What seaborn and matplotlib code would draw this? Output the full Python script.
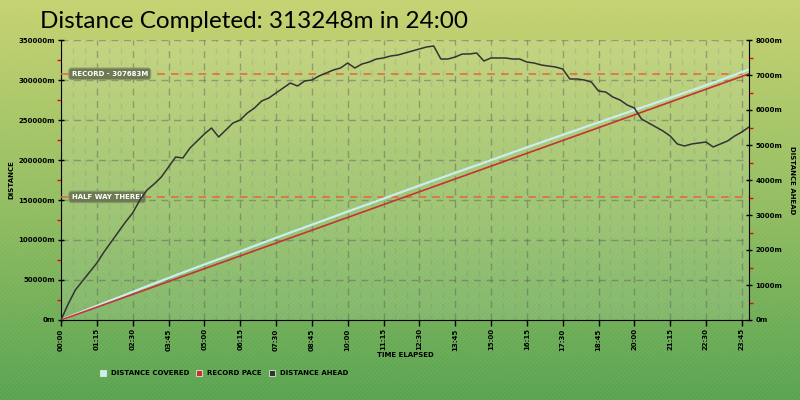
import numpy as np
import pandas as pd
import matplotlib
matplotlib.use("Agg")
import matplotlib.pyplot as plt
import seaborn as sns
from matplotlib.ticker import MultipleLocator, FuncFormatter
from matplotlib.colors import LinearSegmentedColormap
from matplotlib.patches import Rectangle
from matplotlib.font_manager import FontProperties

# ---------------- data ----------------
title_text = "Distance Completed: 313248m in 24:00"
record_distance = 307683
half_way_distance = 153842

# record pace: straight line from start to record distance at 24h
record_hours = [0, 24]
record_values = [0, 307683]

# distance covered (hourly readings)
covered_hours = list(range(25))
covered_values = [0, 14191, 28154, 42174, 55938, 69415, 82550, 95998, 109332,
                  122352, 135544, 148478, 161471, 174491, 187082, 199788,
                  212579, 225199, 237648, 250125, 262460, 274623, 287072,
                  299806, 313248]

# distance ahead of record pace (every 15 minutes)
ahead_hours = np.arange(0, 24.01, 0.25)
ahead_values = [0, 457, 857, 1114, 1371, 1629, 1943, 2229, 2514, 2800, 3057,
                3429, 3714, 3886, 4086, 4371, 4657, 4629, 4914, 5114, 5314,
                5486, 5229, 5429, 5629, 5714, 5914, 6057, 6257, 6343, 6486,
                6629, 6771, 6686, 6829, 6857, 6971, 7057, 7143, 7200, 7343,
                7200, 7314, 7371, 7457, 7486, 7543, 7571, 7629, 7686, 7743,
                7800, 7829, 7457, 7457, 7514, 7600, 7600, 7629, 7400, 7486,
                7486, 7486, 7457, 7457, 7371, 7343, 7286, 7257, 7229, 7171,
                6886, 6886, 6857, 6800, 6543, 6514, 6371, 6286, 6143, 6057,
                5743, 5629, 5514, 5400, 5257, 5029, 4971, 5029, 5057, 5086,
                4943, 5029, 5114, 5257, 5371, 5514]

legend_labels = ["DISTANCE COVERED", "RECORD PACE", "DISTANCE AHEAD"]
c_covered = "#c8eef2"
c_record = "#c43434"
c_ahead = "#333333"

df_cov = pd.DataFrame({"h": covered_hours, "v": covered_values})
df_rec = pd.DataFrame({"h": record_hours, "v": record_values})
df_ahead = pd.DataFrame({"h": ahead_hours, "v": ahead_values})

# ---------------- figure ----------------
fig = plt.figure(figsize=(8, 4), dpi=100)

bg = fig.add_axes([0, 0, 1, 1], zorder=-10)
grad = np.linspace(0, 1, 256).reshape(-1, 1)
cmap = LinearSegmentedColormap.from_list("bg", ["#c6d270", "#93be60", "#57a34f"])
bg.imshow(grad, aspect="auto", cmap=cmap, extent=[0, 1, 0, 1], origin="upper")
bg.add_patch(Rectangle((0, 0), 1, 1, transform=bg.transAxes, fill=False,
                       hatch="////////", edgecolor=(1, 1, 1, 0.06), lw=0))
bg.set_xlim(0, 1); bg.set_ylim(0, 1)
bg.axis("off")

ax = fig.add_axes([0.07625, 0.2, 0.86, 0.7])
ax.set_facecolor((1, 1, 1, 0.12))
ax.set_xlim(0, 24)
ax.set_ylim(0, 350000)

tick_fp = FontProperties(family="DejaVu Sans", size=5, weight="bold")

sns.lineplot(data=df_cov, x="h", y="v", ax=ax, color=c_covered, lw=1.6, zorder=4)
sns.lineplot(data=df_rec, x="h", y="v", ax=ax, color=c_record, lw=1.2, zorder=5)

ax.axhline(record_distance, color="#e8643c", ls=(0, (5, 4)), lw=1.1, zorder=3)
ax.axhline(half_way_distance, color="#e8643c", ls=(0, (5, 4)), lw=1.1, zorder=3)

box = dict(boxstyle="round,pad=0.4,rounding_size=0.4", fc="#6d7a52", ec="#8d9b6c", lw=0.8)
ax.text(0.37, record_distance, "RECORD - 307683M", va="center", ha="left",
        color="white", fontsize=5, fontweight="bold", bbox=box, zorder=6)
ax.text(0.37, half_way_distance, "HALF WAY THERE!", va="center", ha="left",
        color="white", fontsize=5, fontweight="bold", bbox=box, zorder=6)

# axis ticks
ax.xaxis.set_major_locator(MultipleLocator(1.25))
ax.xaxis.set_minor_locator(MultipleLocator(25 / 60))
ax.xaxis.set_major_formatter(FuncFormatter(
    lambda h, p: f"{int(h):02d}:{int(round((h % 1) * 60)):02d}"))
ax.yaxis.set_major_locator(MultipleLocator(50000))
ax.yaxis.set_minor_locator(MultipleLocator(25000))
ax.yaxis.set_major_formatter(FuncFormatter(lambda v, p: f"{int(v)}m"))

ax.grid(which="major", axis="both", ls=(0, (5, 4)), color="#5a5a5a", alpha=0.45, lw=1)
ax.grid(which="minor", axis="x", ls=(0, (4, 4)), color="#7a7a7a", alpha=0.2, lw=1)
ax.set_axisbelow(True)

ax.tick_params(axis="y", which="major", direction="inout", length=5, width=1, color="black", pad=2)
ax.tick_params(axis="y", which="minor", direction="out", length=3, width=1, color="red")
ax.tick_params(axis="x", which="major", direction="out", length=4, width=1, color="black", pad=2)
ax.tick_params(axis="x", which="minor", length=0)
for lab in ax.get_yticklabels():
    lab.set_fontproperties(tick_fp)
for lab in ax.get_xticklabels():
    lab.set_fontproperties(tick_fp)
    lab.set_rotation(90)

for s in ["top", "right"]:
    ax.spines[s].set_visible(False)
ax.spines["left"].set_color("black")
ax.spines["bottom"].set_color("black")
ax.set_xlabel("")
ax.set_ylabel("")

# right axis
ax2 = ax.twinx()
ax2.set_ylim(0, 8000)
sns.lineplot(data=df_ahead, x="h", y="v", ax=ax2, color=c_ahead, lw=1.1, zorder=5)
ax2.yaxis.set_major_locator(MultipleLocator(1000))
ax2.yaxis.set_minor_locator(MultipleLocator(500))
ax2.yaxis.set_major_formatter(FuncFormatter(lambda v, p: f"{int(v)}m"))
ax2.tick_params(axis="y", which="major", direction="inout", length=5, width=1, color="black", pad=2)
ax2.tick_params(axis="y", which="minor", direction="out", length=3, width=1, color="red")
for lab in ax2.get_yticklabels():
    lab.set_fontproperties(tick_fp)
for s in ["top", "left", "bottom"]:
    ax2.spines[s].set_visible(False)
ax2.spines["right"].set_color("black")
ax2.set_xlabel("")
ax2.set_ylabel("")

# axis titles
lab_font = dict(family="DejaVu Sans", size=5, weight="bold", color="black")
fig.text(11 / 800, 1 - 180 / 400, "DISTANCE", rotation=90, ha="center", va="center", **lab_font)
fig.text(792 / 800, 1 - 180 / 400, "DISTANCE AHEAD", rotation=270, ha="center", va="center", **lab_font)
fig.text(405 / 800, 1 - 355 / 400, "TIME ELAPSED", ha="center", va="center", **lab_font)

# title
fig.text(40 / 800, 1 - 21 / 400, title_text, fontsize=17.5, family="Lato",
         ha="left", va="center", color="black")

# legend (placed sequentially)
renderer = fig.canvas.get_renderer()
x_px = 100
leg_colors = [c_covered, c_record, c_ahead]
for col, lab in zip(leg_colors, legend_labels):
    fig.patches.append(Rectangle((x_px / 800, 1 - 376 / 400), 6 / 800, 6 / 400,
                                 transform=fig.transFigure, fc=col, ec="#dfe8d8",
                                 lw=0.6, figure=fig))
    t = fig.text((x_px + 11) / 800, 1 - 373 / 400, lab, ha="left", va="center", **lab_font)
    bb = t.get_window_extent(renderer=renderer)
    x_px = bb.x1 + 7

fig.savefig("out.png", dpi=100)
